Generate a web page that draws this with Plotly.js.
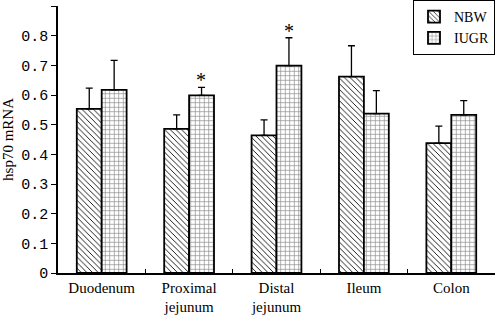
<!DOCTYPE html>
<html><head><meta charset="utf-8">
<script src="https://cdn.plot.ly/plotly-3.0.1.min.js"></script>
<style>body{margin:0;padding:0;background:#fff}#chart{width:496px;height:315px}</style>
</head><body><div id="chart"></div>
<script>
const categories = ["Duodenum", "Proximal<br>jejunum", "Distal<br>jejunum", "Ileum", "Colon"];
const nbwValues = [0.553, 0.486, 0.464, 0.662, 0.438];
const nbwErrors = [0.070, 0.047, 0.052, 0.104, 0.057];
const iugrValues = [0.617, 0.599, 0.699, 0.537, 0.533];
const iugrErrors = [0.100, 0.027, 0.094, 0.078, 0.048];
const significant = [false, true, true, false, false];
const yTickVals = [0, 0.1, 0.2, 0.3, 0.4, 0.5, 0.6, 0.7, 0.8, 0.9];
const yTickText = ["0", "0.1", "0.2", "0.3", "0.4", "0.5", "0.6", "0.7", "0.8", "0.9"];

const serif = "Liberation Serif, Times New Roman, serif";
const mono = "Liberation Mono, Courier New, monospace";

const errStyle = {type: 'data', symmetric: false, color: '#000', thickness: 1.3, width: 3.5};

const traces = [
  {
    type: 'bar', name: 'NBW', x: categories, y: nbwValues,
    marker: {color: '#fff', line: {color: '#000', width: 1.8},
      pattern: {shape: '\\', fgcolor: '#000', bgcolor: '#fff', size: 4, solidity: 0.22}},
    error_y: Object.assign({}, errStyle, {array: nbwErrors, arrayminus: nbwErrors.map(() => 0)})
  },
  {
    type: 'bar', name: 'IUGR', x: categories, y: iugrValues,
    marker: {color: '#fff', line: {color: '#000', width: 1.8},
      pattern: {shape: '+', fgcolor: '#8a8a8a', bgcolor: '#fff', size: 4.5, solidity: 0.28}},
    error_y: Object.assign({}, errStyle, {array: iugrErrors, arrayminus: iugrErrors.map(() => 0)})
  }
];

const annotations = [];
categories.forEach((c, i) => {
  if (significant[i]) {
    annotations.push({x: c, y: iugrValues[i] + iugrErrors[i], xref: 'x', yref: 'y',
      text: '*', showarrow: false, xshift: 12, yanchor: 'bottom', yshift: -6,
      font: {family: serif, size: 20, color: '#000'}});
  }
});

const layout = {
  width: 496, height: 315,
  margin: {l: 58, r: 1, t: 5, b: 42},
  paper_bgcolor: '#fff', plot_bgcolor: '#fff',
  barmode: 'group', bargap: 0.43, bargroupgap: 0,
  showlegend: true,
  legend: {x: 1, xanchor: 'right', y: 1.02, yanchor: 'top', bordercolor: '#000', borderwidth: 1,
    bgcolor: '#fff', font: {family: serif, size: 14, color: '#000'}, itemwidth: 30, tracegroupgap: 2},
  xaxis: {type: 'category', showline: true, linecolor: '#000', linewidth: 1.8,
    ticks: 'inside', tickson: 'boundaries', ticklen: 4, tickcolor: '#000', tickwidth: 1,
    showgrid: false, zeroline: false,
    tickfont: {family: serif, size: 15, color: '#000'}},
  yaxis: {range: [0, 0.9], tickvals: yTickVals, ticktext: yTickText, showline: true, linecolor: '#000', linewidth: 1.8,
    ticks: 'outside', ticklen: 5, tickcolor: '#000', tickwidth: 1, showgrid: false, zeroline: false,
    tickfont: {family: mono, size: 15, color: '#000'},
    title: {text: 'hsp70 mRNA', font: {family: serif, size: 15, color: '#000'}, standoff: 4}},
  annotations: annotations
};

Plotly.newPlot('chart', traces, layout, {displayModeBar: false, staticPlot: true});
</script></body></html>
